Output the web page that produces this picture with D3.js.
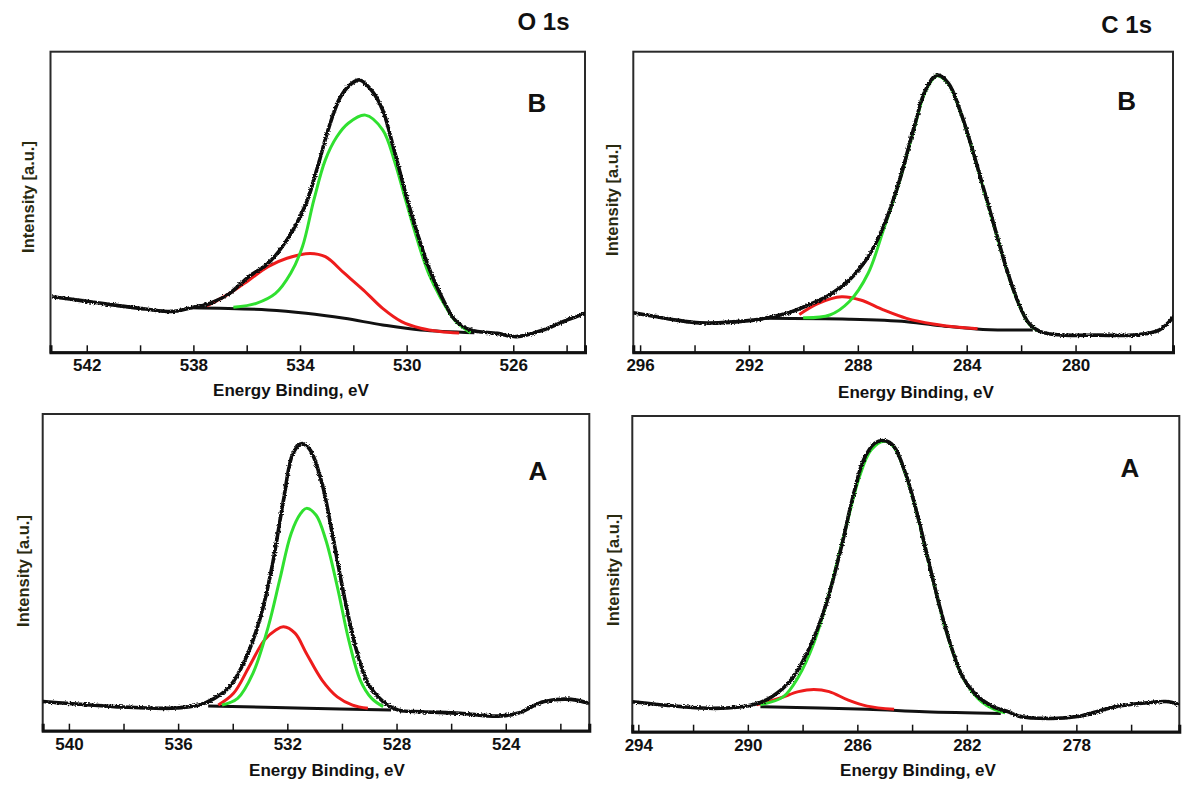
<!DOCTYPE html>
<html>
<head>
<meta charset="utf-8">
<script src="https://cdn.jsdelivr.net/npm/d3@7"></script>
<style>
  html, body { margin: 0; padding: 0; background: #fff; }
  svg { display: block; }
  text { font-family: "Liberation Sans", Arial, sans-serif; }
</style>
</head>
<body>
<svg id="chart" width="1200" height="797"></svg>
<script>
// ---------------- DATA (binding energy eV, intensity in % of panel height) ----------------
// O 1s, sample B (top-left)
const o1sB_ticks  = [542, 540, 538, 536, 534, 532, 530, 528, 526, 524];
const o1sB_labels = [542, 538, 534, 530, 526];
const o1sB_spec = [[543.3,18.5],[542.2,17.2],[540.95,15.7],[539.8,14.4],[538.8,13.6],[538.08,14.8],[537.36,16.3],[536.64,19.6],[535.92,25.2],[535.2,29.6],[534.49,37.4],[533.77,49.6],[533.34,61.7],[532.91,75],[532.48,85],[532.05,89.5],[531.76,90.6],[531.33,87.3],[530.9,80.6],[530.47,67.3],[530.04,52.9],[529.6,39.6],[529.18,28.5],[528.75,19.6],[528.18,10.7],[527.6,7.4],[526.6,6.3],[525.88,5.2],[524.88,7.4],[524.0,10.7],[523.3,13]];
const o1sB_green = [[536.5,15.0],[535.64,16.3],[534.92,19.6],[534.35,26.3],[533.91,35.1],[533.48,50.7],[533.05,64],[532.62,71.7],[532.19,76.2],[531.55,78.9],[530.9,74],[530.47,64],[530.04,50.7],[529.6,37.4],[529.18,26.3],[528.75,18.5],[528.18,10.5],[527.6,6.5]];
const o1sB_red = [[537.5,15.4],[536.64,19.6],[535.92,24],[535.2,28.5],[534.49,31.3],[533.62,32.9],[533.05,31.8],[532.34,26.3],[531.62,20.7],[530.9,14.6],[530.19,10.2],[529.47,8],[528.75,6.9],[528.03,6.4]];
const o1sB_bg = [[538.1,14.8],[535.2,14.1],[533.77,13],[532.34,11.3],[530.9,9.1],[529.47,7.4],[527.46,6.5]];

// C 1s, sample B (top-right)
const c1sB_ticks  = [296, 294, 292, 290, 288, 286, 284, 282, 280, 278];
const c1sB_labels = [296, 292, 288, 284, 280];
const c1sB_spec = [[296.3,13.2],[295.5,12.0],[294.66,10.7],[293.81,9.8],[291.84,10.7],[291.14,11.8],[290.43,13.5],[289.73,16.1],[289.03,19.1],[288.32,24],[287.62,31.8],[287.06,41.8],[286.5,56.2],[285.93,75],[285.51,87.3],[285.09,92.2],[284.67,89.5],[284.25,80.6],[283.82,68.4],[283.4,55.1],[282.98,41.8],[282.56,28.5],[282.14,17.4],[281.71,9.6],[281.29,6.9],[280.59,5.8],[279.18,5.7],[277.77,5.8],[276.93,7.4],[276.4,11.8]];
const c1sB_green = [[290.01,11.5],[289.03,12.4],[288.32,16.8],[287.62,26.3],[287.06,40.7],[286.5,56],[285.93,74.5],[285.51,87],[285.09,92],[284.67,89.3],[284.25,80.4],[283.82,68.2],[283.4,54.9],[282.98,41.6],[282.56,28.3],[282.14,17.2],[281.71,9.4],[281.4,7.2]];
const c1sB_red = [[290.15,12.6],[289.45,16.3],[288.6,18.5],[287.9,17.4],[287.06,14.1],[286.21,11.3],[285.23,9.4],[284.3,8.3],[283.6,7.8]];
const c1sB_bg = [[291.42,11.3],[288.32,11],[286.21,10.2],[284.81,8.7],[283.4,7.6],[281.57,7.4]];

// O 1s, sample A (bottom-left)
const o1sA_ticks  = [540, 538, 536, 534, 532, 530, 528, 526, 524, 522];
const o1sA_labels = [540, 536, 532, 528, 524];
const o1sA_spec = [[540.95,9.2],[538.32,7.6],[536.21,7.1],[535.23,8.1],[534.67,10.2],[534.11,13.9],[533.55,22.3],[532.98,36],[532.56,51.8],[532.14,72.8],[531.79,87.6],[531.46,90.7],[531.16,88.6],[530.73,78.1],[530.31,60.2],[529.89,41.3],[529.47,25.5],[529.05,15],[528.49,9.2],[527.93,6.5],[527.08,6],[525.68,5.5],[524.28,4.6],[523.57,5.5],[522.59,9.2],[521.61,9.9],[520.95,8.6]];
const o1sA_green = [[534.39,8.1],[533.82,10.2],[533.26,18.1],[532.7,32.8],[532.28,47.6],[531.86,62.3],[531.51,68.6],[531.3,70.2],[530.95,68.1],[530.59,60.2],[530.17,45.5],[529.75,28.6],[529.33,16],[528.91,10.2],[528.49,7.6]];
const o1sA_red = [[534.53,8.1],[533.97,11.8],[533.4,20.2],[532.84,28.6],[532.42,31.8],[532.14,32.8],[531.72,30.8],[531.3,24.4],[530.73,16],[530.17,10.7],[529.61,8.1],[529.05,7.1]];
const o1sA_bg = [[534.9,7.8],[531.3,7.1],[528.2,6.5]];

// C 1s, sample A (bottom-right)
const c1sA_ticks  = [294, 292, 290, 288, 286, 284, 282, 280, 278, 276];
const c1sA_labels = [294, 290, 286, 282, 278];
const c1sA_spec = [[294.21,9.5],[291.21,7.4],[289.82,8.5],[289.12,11.1],[288.42,16.4],[287.73,26.9],[287.17,39.6],[286.61,57.6],[286.19,73.4],[285.77,86.1],[285.36,91.4],[285.01,92.2],[284.66,90.3],[284.24,81.8],[283.82,69.2],[283.41,54.4],[282.99,39.6],[282.57,26.9],[282.15,17.4],[281.59,11.1],[281.03,7.9],[280.48,6.3],[280.06,4.8],[278.94,4.2],[277.97,4.8],[276.58,7.9],[275.6,9],[274.62,9.5],[274.27,8.5]];
const c1sA_green = [[289.54,8.5],[288.7,11.1],[288.15,17.4],[287.59,28],[287.03,43.8],[286.47,62.8],[285.92,80.8],[285.5,89.2],[285.01,92],[284.66,90.1],[284.24,81.6],[283.82,69],[283.41,54.2],[282.99,39.4],[282.57,26.7],[282.15,17.2],[281.59,10.5],[281.03,7.2],[280.6,6]];
const c1sA_red = [[289.68,8.5],[288.84,10.6],[288.15,12.7],[287.59,13.4],[287.03,12.7],[286.33,10],[285.64,8.1],[284.66,7.1]];
const c1sA_bg = [[289.54,7.9],[285.64,7.1],[283.54,6.3],[280.76,5.8]];

const titles  = ["O 1s", "C 1s"];
const letters = ["B", "B", "A", "A"];
const xTitle  = "Energy Binding, eV";
const yTitle  = "Intensity [a.u.]";

// ---------------- LAYOUT ----------------
const panels = [
  { box: [50.5, 585, 51.7, 352.3], dom: [543.36, 523.31], ticks: o1sB_ticks, labels: o1sB_labels,
    spec: o1sB_spec, green: o1sB_green, red: o1sB_red, bg: o1sB_bg, letter: letters[0],
    letterPos: [537, 111.5], yLab: [34, 197], xLab: [291, 396] },
  { box: [633.3, 1173, 51.7, 352.3], dom: [296.25, 276.42], ticks: c1sB_ticks, labels: c1sB_labels,
    spec: c1sB_spec, green: c1sB_green, red: c1sB_red, bg: c1sB_bg, letter: letters[1],
    letterPos: [1126.7, 110], yLab: [618, 200], xLab: [916, 398] },
  { box: [42.7, 589.3, 414, 730.7], dom: [540.96, 520.94], ticks: o1sA_ticks, labels: o1sA_labels,
    spec: o1sA_spec, green: o1sA_green, red: o1sA_red, bg: o1sA_bg, letter: letters[2],
    letterPos: [538, 480], yLab: [29, 571], xLab: [327, 776] },
  { box: [632.3, 1179.3, 416, 731.7], dom: [294.22, 274.24], ticks: c1sA_ticks, labels: c1sA_labels,
    spec: c1sA_spec, green: c1sA_green, red: c1sA_red, bg: c1sA_bg, letter: letters[3],
    letterPos: [1130, 476.5], yLab: [619, 570], xLab: [918, 776] }
];

const svg = d3.select("#chart");
const defs = svg.append("defs");

// subtle noise for measured spectra
const f = defs.append("filter").attr("id", "noise")
  .attr("x", "-2%").attr("y", "-5%").attr("width", "104%").attr("height", "110%");
f.append("feTurbulence").attr("type", "fractalNoise").attr("baseFrequency", "0.6 0.9")
  .attr("numOctaves", 1).attr("seed", 3).attr("result", "t");
f.append("feDisplacementMap").attr("in", "SourceGraphic").attr("in2", "t")
  .attr("scale", 3.5).attr("xChannelSelector", "R").attr("yChannelSelector", "G");

// titles
svg.append("text").attr("x", 543.5).attr("y", 30).attr("text-anchor", "middle")
  .attr("font-size", 24).attr("font-weight", "bold").attr("fill", "#111").text(titles[0]);
svg.append("text").attr("x", 1126.7).attr("y", 33.3).attr("text-anchor", "middle")
  .attr("font-size", 24).attr("font-weight", "bold").attr("fill", "#111").text(titles[1]);

panels.forEach((p, i) => {
  const [L, R, T, B] = p.box;
  const x = d3.scaleLinear().domain(p.dom).range([L, R]);
  const y = d3.scaleLinear().domain([0, 100]).range([B, T]);
  const g = svg.append("g");

  const cid = "clip" + i;
  defs.append("clipPath").attr("id", cid).append("rect")
    .attr("x", L).attr("y", T).attr("width", R - L).attr("height", B - T);

  // frame
  g.append("rect").attr("x", L).attr("y", T).attr("width", R - L).attr("height", B - T)
    .attr("fill", "none").attr("stroke", "#2a2a2a").attr("stroke-width", 2);

  const line = d3.line().x(d => x(d[0])).y(d => y(d[1])).curve(d3.curveCatmullRom.alpha(0.5));
  const plot = g.append("g").attr("clip-path", `url(#${cid})`);

  plot.append("path").datum(p.bg).attr("d", line).attr("fill", "none")
    .attr("stroke", "#111").attr("stroke-width", 3);
  plot.append("path").datum(p.red).attr("d", line).attr("fill", "none")
    .attr("stroke", "#ee1c1c").attr("stroke-width", 3);
  plot.append("path").datum(p.green).attr("d", line).attr("fill", "none")
    .attr("stroke", "#30e030").attr("stroke-width", 3);
  plot.append("path").datum(p.spec).attr("d", line).attr("fill", "none")
    .attr("stroke", "#0a0a0a").attr("stroke-width", 3.6).attr("stroke-linejoin", "round")
    .attr("filter", "url(#noise)");

  // bottom axis with inward ticks
  const ax = d3.axisBottom(x).tickValues(p.ticks).tickSize(-7).tickPadding(7)
    .tickFormat(d => p.labels.includes(d) ? String(d) : "");
  const axg = g.append("g").attr("transform", `translate(0,${B})`).call(ax);
  axg.select(".domain").attr("stroke", "#111").attr("stroke-width", 3);
  axg.selectAll(".tick line").attr("stroke", "#111").attr("stroke-width", 1.5);
  axg.selectAll(".tick text").attr("font-size", 17).attr("font-weight", "bold")
    .attr("fill", "#111").attr("font-family", "'Liberation Sans', Arial, sans-serif");

  // axis titles
  g.append("text").attr("x", p.xLab[0]).attr("y", p.xLab[1]).attr("text-anchor", "middle")
    .attr("font-size", 17).attr("font-weight", "bold").attr("fill", "#111").text(xTitle);
  g.append("text").attr("transform", `translate(${p.yLab[0]},${p.yLab[1]}) rotate(-90)`)
    .attr("text-anchor", "middle").attr("font-size", 16.5).attr("font-weight", "bold")
    .attr("fill", "#2a2a10").text(yTitle);

  // panel letter
  g.append("text").attr("x", p.letterPos[0]).attr("y", p.letterPos[1]).attr("text-anchor", "middle")
    .attr("font-size", 26).attr("font-weight", "bold").attr("fill", "#111").text(p.letter);
});
</script>
</body>
</html>
